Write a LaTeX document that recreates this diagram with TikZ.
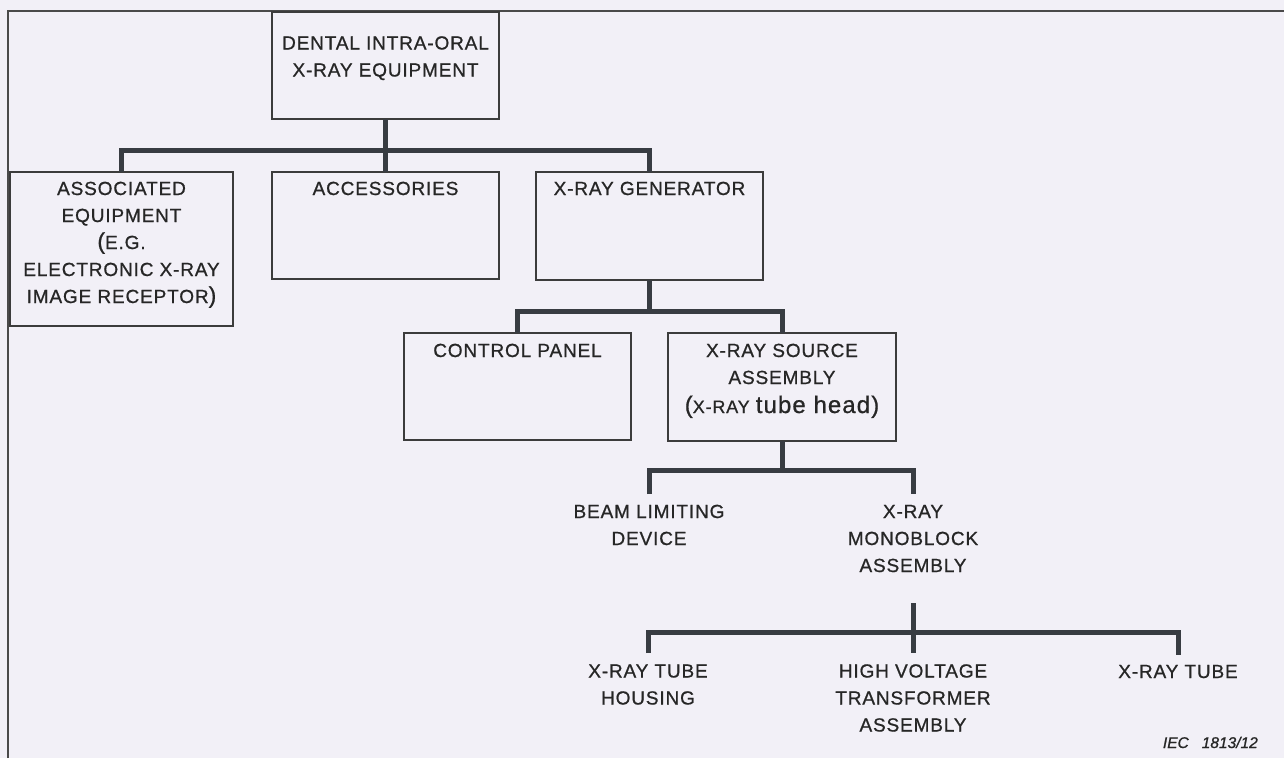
\documentclass[tikz,border=0pt]{standalone}
\usepackage{fontspec}
\setmainfont{Liberation Sans}[LetterSpace=4.5, FakeBold=0.8]
\newfontfamily\iecfont{Liberation Sans}[FakeBold=1.0]
\definecolor{bgc}{HTML}{F2F0F7}
\definecolor{framec}{HTML}{4A4A4A}
\definecolor{boxline}{HTML}{3C3C3C}
\definecolor{connc}{HTML}{383C42}
\definecolor{txt}{HTML}{262626}
\newcommand\lblfont{\fontsize{19}{27}\selectfont}
\newcommand\bigparen[1]{{\fontsize{23}{27}\selectfont#1}}
\newcommand\boxtxt[4]{\begin{minipage}[t][#2][t]{#1}\centering\rule{0pt}{#3}#4\end{minipage}}
\begin{document}
\begin{tikzpicture}[x=1pt,y=-1pt,
  box/.style={draw=boxline, line width=1.8pt, inner sep=0pt, outer sep=0pt, anchor=north west, font=\lblfont, text=txt},
  lbl/.style={inner sep=0pt, outer sep=0pt, anchor=north, align=center, font=\lblfont, text=txt},
  conn/.style={draw=connc, line width=5pt, line join=miter},
  framel/.style={draw=framec, line width=1.8pt}]
\fill[bgc] (0,0) rectangle (1284,758);
\useasboundingbox (0,0) rectangle (1284,758);
\draw[framel] (8,758) -- (8,11) -- (1284,11);

\node[box] (eq) at (272,12) {\boxtxt{227pt}{107pt}{37.5pt}{DENTAL INTRA-ORAL\\X-RAY EQUIPMENT}};
\node[box] (assoc) at (10,172) {\boxtxt{223pt}{154pt}{23pt}{ASSOCIATED\\EQUIPMENT\\\bigparen{(}E.G.\\ELECTRONIC X-RAY\\IMAGE RECEPTOR\bigparen{)}}};
\node[box] (acc) at (272,172) {\boxtxt{227pt}{107pt}{23pt}{ACCESSORIES}};
\node[box] (gen) at (536,172) {\boxtxt{227pt}{108pt}{23pt}{X-RAY GENERATOR}};
\node[box] (cp) at (404,333) {\boxtxt{227pt}{107pt}{24pt}{CONTROL PANEL}};
\node[box] (src) at (668,333) {\boxtxt{228pt}{108pt}{24pt}{X-RAY SOURCE\\ASSEMBLY\\[2pt]{\fontsize{24}{27}\selectfont(}{\fontsize{18}{27}\selectfont X-RAY} {\fontsize{24}{27}\selectfont tube head)}}};

\node[lbl] (beam) at (649,494) {\rule{0pt}{24pt}BEAM LIMITING\\DEVICE};
\node[lbl] (mono) at (913,494) {\rule{0pt}{24pt}X-RAY\\MONOBLOCK\\ASSEMBLY};
\node[lbl] (housing) at (648,653) {\rule{0pt}{24.5pt}X-RAY TUBE\\HOUSING};
\node[lbl] (hv) at (913,653) {\rule{0pt}{24.5pt}HIGH VOLTAGE\\TRANSFORMER\\ASSEMBLY};
\node[lbl] (tube) at (1178,655) {\rule{0pt}{23pt}X-RAY TUBE};

\node[anchor=base east, inner sep=0pt, text=txt, font=\iecfont\itshape\fontsize{15.5}{18}\selectfont] (iec) at (1258,748) {IEC\hspace{13pt}1813/12};

\coordinate (j1) at (385.5,150);
\draw[conn] (eq.south) -- (acc.north);
\draw[conn] (assoc.north) |- (j1) -| (gen.north);
\path (gen.south) ++(0,31) coordinate (j2);
\draw[conn] (gen.south) -- (j2);
\draw[conn] (cp.north) |- (j2) -| (src.north);
\path (src.south) ++(0,29) coordinate (j3);
\draw[conn] (src.south) -- (j3);
\draw[conn] (beam.north) |- (j3) -| (mono.north);
\coordinate (m4) at (913,603);
\coordinate (j4) at (913,632);
\draw[conn] (m4) -- (hv.north);
\draw[conn] (housing.north) |- (j4) -| (tube.north);
\end{tikzpicture}
\end{document}
